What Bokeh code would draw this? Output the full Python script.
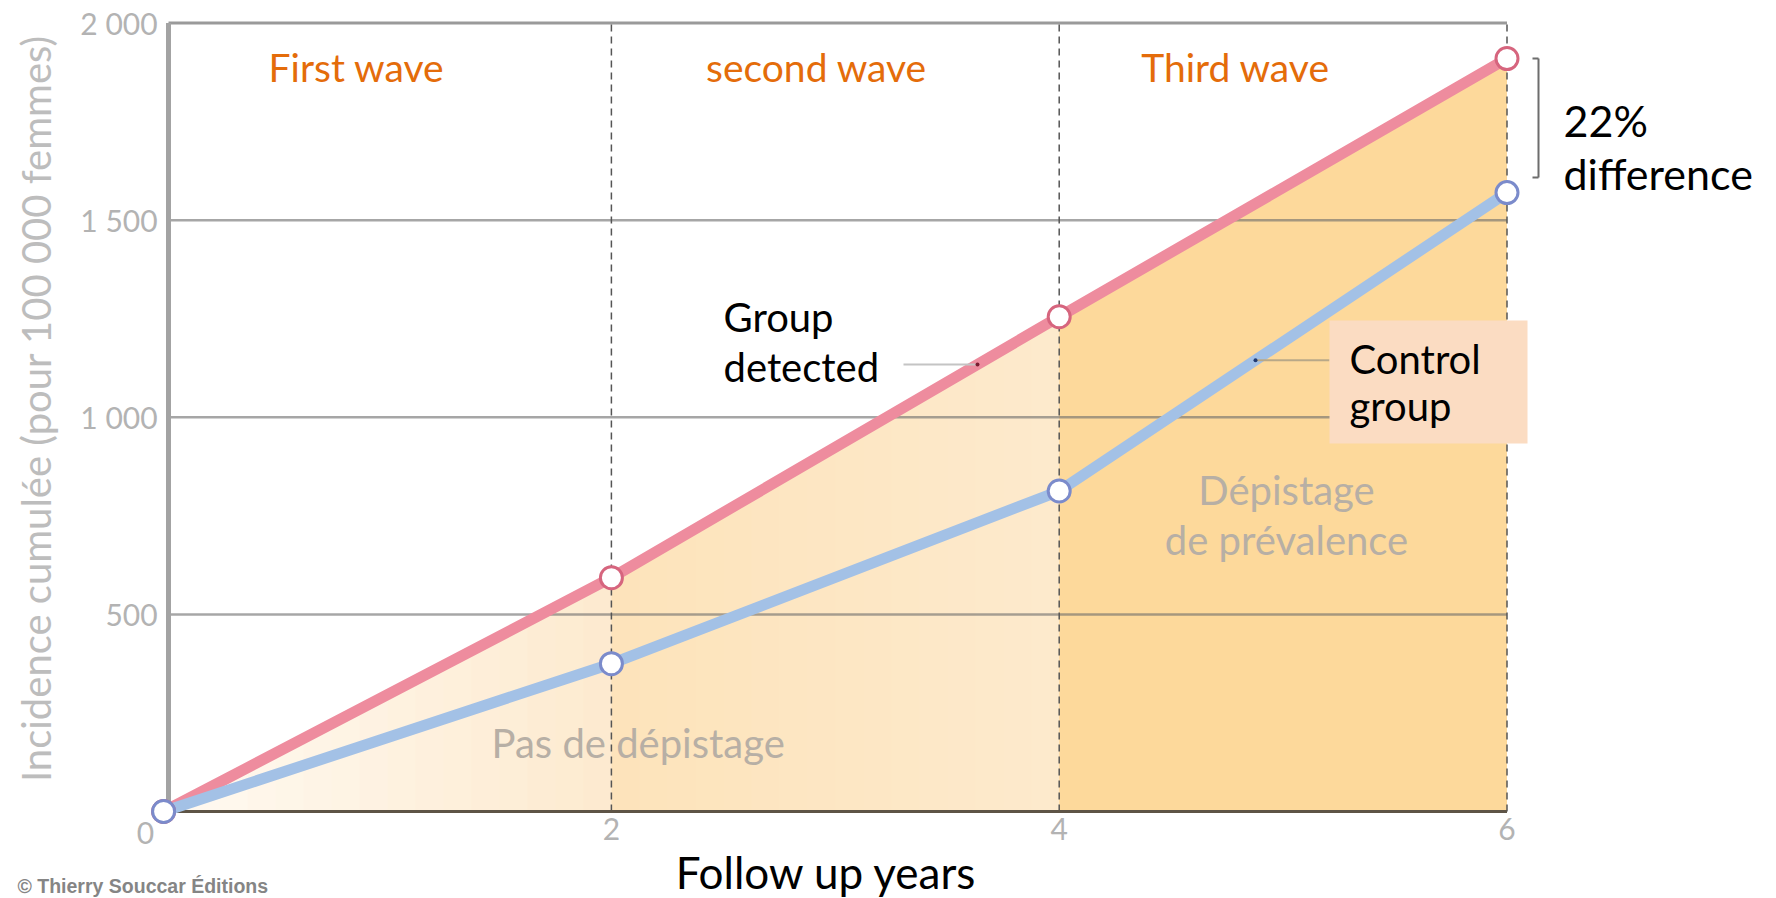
import numpy as np
from bokeh.plotting import figure
from bokeh.models import Range1d, FixedTicker
from bokeh.core.properties import value
from bokeh.embed import file_html
from bokeh.resources import INLINE

# ---------------- data ----------------
years = [0, 2, 4, 6]
detected = [0, 593, 1255, 1910]      # Group detected (screened group)
control = [0, 375, 813, 1570]        # Control group
y_ticks = [500, 1000, 1500, 2000]
y_tick_labels = ["500", "1 000", "1 500", "2 000"]
x_ticks = [2, 4, 6]
x_tick_labels = ["2", "4", "6"]
wave_labels = ["First wave", "second wave", "Third wave"]
x_title = "Follow up years"
y_title = "Incidence cumulée (pour 100 000 femmes)"

# ---------------- geometry (pixel layout) ----------------
W, H = 1776, 898
X_PX0, X_PX6 = 163.1, 1506.5
Y_PX0, Y_PX2000 = 811.0, 22.6
SX = (X_PX6 - X_PX0) / 6.0
SY = (Y_PX0 - Y_PX2000) / 2000.0
BL = 15  # baseline correction for text glyphs (px)


def fx(px):
    return (px - X_PX0) / SX


def fy(py):
    return (Y_PX0 - py) / SY


def fyt(py):
    return fy(py - BL)


FONT = "Lato"

p = figure(width=W, height=H,
           x_range=Range1d(fx(0), fx(W)),
           y_range=Range1d(fy(H), fy(0)),
           output_backend="svg", toolbar_location=None,
           min_border=0, min_border_left=0, min_border_right=0,
           min_border_top=0, min_border_bottom=0)
p.outline_line_color = None
p.xgrid.visible = False
p.ygrid.visible = False
p.background_fill_color = "white"
p.border_fill_color = "white"

# ---------------- axes (fixed at the origin) ----------------
p.yaxis.ticker = FixedTicker(ticks=y_ticks)
p.yaxis.major_label_overrides = {t: l for t, l in zip(y_ticks, y_tick_labels)}
p.xaxis.ticker = FixedTicker(ticks=x_ticks)
p.xaxis.major_label_overrides = {t: l for t, l in zip(x_ticks, x_tick_labels)}
for ax in (p.xaxis[0], p.yaxis[0]):
    ax.fixed_location = 0
    ax.axis_line_color = None
    ax.major_tick_line_color = None
    ax.minor_tick_line_color = None
    ax.major_tick_out = 0
    ax.major_tick_in = 0
    ax.minor_tick_out = 0
    ax.major_label_text_font = FONT
    ax.major_label_text_font_size = "30px"
    ax.major_label_text_color = "#b3b3b3"
    ax.axis_label_text_font = FONT
    ax.axis_label_text_font_style = "normal"

p.yaxis.bounds = (45, 2000)
p.yaxis.major_label_standoff = 6
p.yaxis.axis_label = y_title
p.yaxis.axis_label_text_font_size = "40px"
p.yaxis.axis_label_text_color = "#bdbdbd"
p.yaxis.axis_label_standoff = 17

p.xaxis.bounds = (-0.08, 6)
p.xaxis.major_label_standoff = 6
p.xaxis.axis_label = x_title
p.xaxis.axis_label_text_font_size = "44px"
p.xaxis.axis_label_text_color = "#000000"
p.xaxis.axis_label_standoff = 3


# ---------------- shaded area under the screened-group curve ----------------
def mix(c0, c1, t):
    a = [int(c0[i:i + 2], 16) for i in (1, 3, 5)]
    b = [int(c1[i:i + 2], 16) for i in (1, 3, 5)]
    return "#%02x%02x%02x" % tuple(int(round(a[j] + (b[j] - a[j]) * t)) for j in range(3))


zone_colors = [("#fffaf2", "#fdeacf"), ("#fde3ba", "#fdeacd"), ("#fdd99b", "#fdd99b")]
for i in range(len(years) - 1):
    a, b = years[i], years[i + 1]
    c0, c1 = zone_colors[i]
    n = 1 if c0 == c1 else 16
    for k in range(n):
        xa = a + (b - a) * k / n
        ya = float(np.interp(xa, years, detected))
        p.varea(x=[xa, b], y1=[0, 0], y2=[ya, detected[i + 1]],
                fill_color=mix(c0, c1, (k + 0.5) / n), fill_alpha=1.0)

# phase texts (grey, inside the shaded area)
GREY_TXT = "#b7afa5"
p.text(x=[fx(563 * 1.1327)], y=[fyt(757)], text=["Pas de dépistage"],
       text_font=value(FONT), text_font_size=value("40px"), text_color=GREY_TXT,
       text_align="center", text_baseline="alphabetic")
p.text(x=[fx(1286), fx(1286)], y=[fyt(504), fyt(554)], text=["Dépistage", "de prévalence"],
       text_font=value(FONT), text_font_size=value("40px"), text_color=GREY_TXT,
       text_align="center", text_baseline="alphabetic")

# ---------------- grid lines / frame lines ----------------
x_first, x_last = years[0], years[-1]
x_axis_line = fx(168)
p.segment(x0=[x_axis_line] * 3, x1=[x_last] * 3, y0=y_ticks[:3], y1=y_ticks[:3],
          line_color="#6b6b6b", line_alpha=0.6, line_width=2.5)
p.segment(x0=[x_axis_line], x1=[x_last], y0=[y_ticks[-1]], y1=[y_ticks[-1]],
          line_color="#9a9a9a", line_width=3)
p.segment(x0=x_ticks, x1=x_ticks, y0=[0] * 3, y1=[y_ticks[-1]] * 3,
          line_color="#555555", line_width=1.5, line_dash="7 5")
p.segment(x0=[x_axis_line], x1=[x_axis_line], y0=[0], y1=[y_ticks[-1]],
          line_color="#a3a3a3", line_width=5)
p.segment(x0=[x_axis_line], x1=[x_last], y0=[0], y1=[0],
          line_color="#5e5446", line_width=3)

# ---------------- series ----------------
p.line(years, detected, line_color="#ee8c9e", line_width=11, line_cap="round", line_join="round")
p.line(years, control, line_color="#a3c1e6", line_width=11, line_cap="round", line_join="round")
p.scatter(years, detected, size=22, marker="circle", fill_color="white",
          line_color="#d6657e", line_width=3)
p.scatter(years, control, size=22, marker="circle", fill_color="white",
          line_color="#7b8bcb", line_width=3)

# ---------------- wave titles ----------------
p.text(x=[fx(356), fx(816), fx(1235)], y=[fyt(81)] * 3, text=wave_labels,
       text_font=value(FONT), text_font_size=value("39px"), text_color="#e46c0a",
       text_align="center", text_baseline="alphabetic")

# ---------------- callouts ----------------
gd_dot_x = fx(977)
gd_dot_y = float(np.interp(gd_dot_x, years, detected))
p.segment(x0=[fx(903)], x1=[gd_dot_x], y0=[gd_dot_y], y1=[gd_dot_y],
          line_color="#c4c4c4", line_width=2)
p.scatter([gd_dot_x], [gd_dot_y], size=4, fill_color="#7b1c30", line_color=None)
p.text(x=[fx(723), fx(723)], y=[fyt(331), fyt(381)], text=["Group", "detected"],
       text_font=value(FONT), text_font_size=value("40px"), text_color="#000000",
       text_align="left", text_baseline="alphabetic")

cg_dot_x = fx(1255)
cg_dot_y = float(np.interp(cg_dot_x, years, control))
p.segment(x0=[cg_dot_x], x1=[fx(1329)], y0=[cg_dot_y], y1=[cg_dot_y],
          line_color="#b8a888", line_width=2)
p.scatter([cg_dot_x], [cg_dot_y], size=4, fill_color="#1f3a73", line_color=None)
p.quad(left=[fx(1329)], right=[fx(1527)], top=[fy(320)], bottom=[fy(443)],
       fill_color="#fbdcc2", line_color=None)
p.text(x=[fx(1349), fx(1349)], y=[fyt(373), fyt(420)], text=["Control", "group"],
       text_font=value(FONT), text_font_size=value("40px"), text_color="#000000",
       text_align="left", text_baseline="alphabetic")

# bracket for the difference
bx, bt = fx(1538), fx(1532)
p.segment(x0=[bx, bt, bt], x1=[bx, bx, bx], y0=[fy(58), fy(58), fy(177)], y1=[fy(177), fy(58), fy(177)],
          line_color="#6d6d6d", line_width=2)
p.text(x=[fx(1563), fx(1563)], y=[fyt(135), fyt(188)], text=["22%", "difference"],
       text_font=value(FONT), text_font_size=value("43px"), text_color="#000000",
       text_align="left", text_baseline="alphabetic")

# zero label shared by both axes
p.text(x=[fx(145)], y=[fy(832)], text=["0"], text_font=value(FONT),
       text_font_size=value("30px"), text_color="#b3b3b3",
       text_align="center", text_baseline="middle")

# credit
p.text(x=[fx(17)], y=[fy(885)], text=["© Thierry Souccar Éditions"],
       text_font=value("Liberation Sans"), text_font_style="bold",
       text_font_size=value("19.5px"), text_color="#858585",
       text_align="left", text_baseline="middle")

open("out.html", "w").write(file_html(p, INLINE))
